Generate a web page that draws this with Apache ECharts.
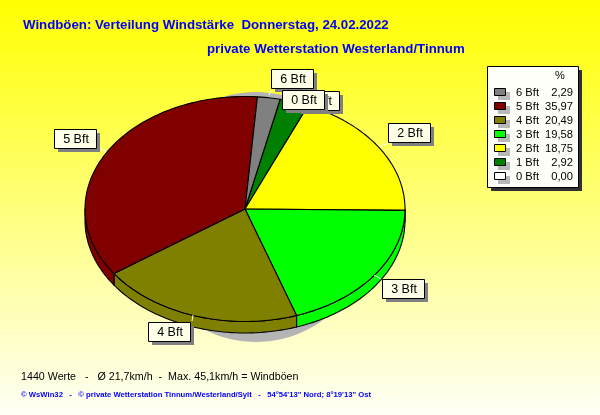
<!DOCTYPE html>
<html><head><meta charset="utf-8">
<style>html,body{margin:0;padding:0;background:#fff}#c{width:600px;height:415px}</style>
<script src="https://cdn.jsdelivr.net/npm/echarts@6/dist/echarts.min.js"></script>
</head><body><div id="c"></div>
<script>
// ---- data ----
const categories = ['0 Bft','1 Bft','2 Bft','3 Bft','4 Bft','5 Bft','6 Bft'];
const percents   = [0.00, 2.92, 18.75, 19.58, 20.49, 35.97, 2.29];
const percentLabels = ['0,00','2,92','18,75','19,58','20,49','35,97','2,29'];
const colors = ['#ffffff','#008000','#ffff00','#00ff00','#808000','#800000','#808080'];
const titleLine1 = 'Windböen: Verteilung Windstärke  Donnerstag, 24.02.2022';
const titleLine2 = 'private Wetterstation Westerland/Tinnum';
const footLine1 = '1440 Werte   -   Ø 21,7km/h  -  Max. 45,1km/h = Windböen';
const footLine2 = '© WsWin32   -   © private Wetterstation Tinnum/Westerland/Sylt   -   54°54\'13" Nord; 8°19\'13" Ost';

// ---- layout ----
const CX = 245, CY = 209, RX = 160, RY = 112.5, DEPTH = 11.5, START_DEG = 77.3;
const total = percents.reduce((a, b) => a + b, 0);
const labelBoxes = {
  '1 Bft': {x:297,y:91,w:42,h:19},
  '6 Bft': {x:271,y:69,w:42,h:19,lead:[273,88,269,95]},
  '0 Bft': {x:282,y:90,w:42,h:19},
  '2 Bft': {x:388,y:123,w:42,h:19,lead:[388,143,380,147]},
  '3 Bft': {x:382,y:279,w:42,h:19,lead:[374,275,381,279]},
  '4 Bft': {x:148,y:322,w:42,h:19,lead:[193,315,192,321]},
  '5 Bft': {x:54,y:129,w:42,h:19,lead:[100,149,106,151]}
};

function pt(deg, dy) {
  const a = deg * Math.PI / 180;
  return [CX + RX * Math.cos(a), CY - RY * Math.sin(a) + (dy || 0)];
}
function arc(from, to, dy) {
  const out = [];
  const n = Math.max(1, Math.ceil((from - to) / 1.5));
  for (let i = 0; i <= n; i++) out.push(pt(from + (to - from) * i / n, dy));
  return out;
}
function renderSlice(params, api) {
  const i = params.dataIndex;
  let before = 0;
  for (let k = 0; k < i; k++) before += percents[k];
  const a0 = START_DEG - before / total * 360;
  const a1 = a0 - api.value(0) / total * 360;
  const children = [];
  const line = {stroke:'#000', lineWidth:1.1, fill:colors[i], lineJoin:'round'};
  if (a1 === a0) return {type:'group', children:[]};
  const w0 = Math.min(a0, 0), w1 = Math.max(a1, -180);
  if (w0 > w1) {
    const top = arc(w0, w1, 0), bot = arc(w0, w1, DEPTH).reverse();
    children.push({type:'polygon', shape:{points: top.concat(bot)}, style:line, z2:1});
  }
  children.push({type:'polygon', shape:{points: [[CX, CY]].concat(arc(a0, a1, 0))}, style:line, z2:2});
  return {type:'group', children};
}

// ---- static decoration ----
const g = [];
const FONT = 'Liberation Sans, Arial, sans-serif';
function txt(x, y, s, o) {
  g.push({type:'text', x, y, z:o.z||20, silent:true, style:Object.assign({
    text:s, fontFamily:FONT, fontSize:11, fill:'#000', align:'left', verticalAlign:'middle'}, o.style||{})});
}
function rect(x, y, w, h, fill, stroke, z) {
  g.push({type:'rect', x, y, z, silent:true, shape:{x:0,y:0,width:w,height:h},
    style:{fill, stroke:stroke||null, lineWidth:stroke?1:0}});
}
g.push({type:'ellipse', z:0, silent:true, shape:{cx:256, cy:217, rx:118, ry:125}, style:{fill:'#b4b4b4'}});

txt(23, 25, titleLine1, {style:{fontSize:13.25, fontWeight:'bold', fill:'#0000ff'}});
txt(207, 49, titleLine2, {style:{fontSize:13.25, fontWeight:'bold', fill:'#0000ff'}});
txt(21, 377.5, footLine1, {style:{fontSize:10.7}});
txt(21, 394.5, footLine2, {style:{fontSize:7.7, fontWeight:'bold', fill:'#0000ff'}});

let zc = 30;
Object.keys(labelBoxes).forEach(name => {
  const b = labelBoxes[name];
  if (b.lead) g.push({type:'line', z:zc, silent:true, shape:{x1:b.lead[0],y1:b.lead[1],x2:b.lead[2],y2:b.lead[3]},
    style:{stroke:'#ffffff', lineWidth:1}});
  rect(b.x+4, b.y+4, b.w, b.h, '#808080', null, zc);
  rect(b.x+.5, b.y+.5, b.w, b.h, '#ffffe8', '#000', zc+1);
  txt(b.x+b.w/2+1, b.y+b.h/2+1, name, {z:zc+2, style:{fontSize:12.5, align:'center'}});
  zc += 3;
});

const LX = 487, LY = 66, LW = 91, LH = 121, ROW0 = 92, ROWH = 14;
rect(LX+4, LY+4, LW, LH, '#303030', null, 60);
rect(LX+.5, LY+.5, LW, LH, '#fffffa', '#000', 61);
txt(560, 76, '%', {z:62, style:{fontSize:11, align:'center'}});
categories.slice().reverse().forEach((name, r) => {
  const i = categories.length - 1 - r, y = ROW0 + r * ROWH;
  rect(498, y, 12, 8, '#b8b8b8', null, 62);
  rect(494.5, y-3.5, 11, 7, colors[i], '#000', 63);
  txt(516, y+.5, name, {z:64, style:{fontSize:11.2}});
  txt(573, y+.5, percentLabels[i], {z:64, style:{fontSize:11.2, align:'right'}});
});

const chart = echarts.init(document.getElementById('c'), null, {renderer:'canvas'});
chart.setOption({
  animation:false,
  backgroundColor:{type:'linear', x:0, y:0, x2:0, y2:1,
    colorStops:[{offset:0,color:'#ffff00'},{offset:1,color:'#fffff6'}]},
  series:[{
    type:'custom', coordinateSystem:'none', silent:true, z:5,
    data:percents.map((v, i) => ({name:categories[i], value:[v]})),
    renderItem:renderSlice
  }],
  graphic:{elements:g}
});
</script></body></html>
